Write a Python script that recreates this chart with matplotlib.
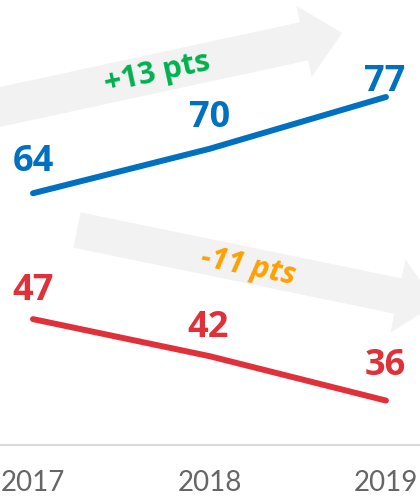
import matplotlib
matplotlib.use("Agg")
import matplotlib.pyplot as plt
from matplotlib.patches import FancyArrow
from matplotlib.transforms import Affine2D

years = [2017, 2018, 2019]
blue_vals = [64, 70, 77]
red_vals = [47, 42, 36]
up_label = "+13 pts"
down_label = "-11 pts"

BLUE = "#0070c0"
RED = "#e0313a"
GREEN = "#00b050"
ORANGE = "#ffa000"
ARROW = "#f2f2f2"
FONT = "Open Sans"

W, H = 420, 499
fig = plt.figure(figsize=(W / 100, H / 100), dpi=100)
ax = fig.add_axes([0, 54 / H, 1, 445 / H])
ax.set_xlim(2016.813, 2019.193)
ax.set_ylim(30, 90.1)

# pixel coords with origin at top-left, for the decorative arrows
px = Affine2D().scale(1, -1).translate(0, H) + fig.transFigure.inverted() + fig.transFigure

ax.add_patch(FancyArrow(-20, 111.3, 324, -70, width=39, head_width=73, head_length=39,
                        length_includes_head=False, color=ARROW, lw=0,
                        transform=px, zorder=0))
ax.add_patch(FancyArrow(77, 230, 321, 66, width=36, head_width=75, head_length=39,
                        length_includes_head=False, color=ARROW, lw=0,
                        transform=px, zorder=0))

ax.plot(years, blue_vals, color=BLUE, lw=4.3, solid_capstyle="round", zorder=2)
ax.plot(years, red_vals, color=RED, lw=4.3, solid_capstyle="round", zorder=2)

blue_off = [(0, 36), (0, 35), (-1, 19)]
red_off = [(0, 33), (-1, 33), (-1, 39)]
for yr, v, off in zip(years, blue_vals, blue_off):
    ax.annotate(str(v), (yr, v), xytext=off, textcoords="offset pixels",
                ha="center", va="center_baseline", fontsize=26, fontweight="bold",
                family=FONT, color=BLUE)
for yr, v, off in zip(years, red_vals, red_off):
    ax.annotate(str(v), (yr, v), xytext=off, textcoords="offset pixels",
                ha="center", va="center_baseline", fontsize=26, fontweight="bold",
                family=FONT, color=RED)

ax.text(157, 73, up_label, transform=px, ha="center", va="center", rotation=12.2,
        rotation_mode="anchor", fontsize=22, fontweight="bold", family=FONT, color=GREEN)
ax.text(248, 267, down_label, transform=px, ha="center", va="center", rotation=-11.6,
        rotation_mode="anchor", fontsize=22, fontweight="bold", style="italic",
        family=FONT, color=ORANGE)

ax.set_xticks(years)
ax.set_xticklabels([str(y) for y in years], fontsize=20, family="Lato", color="#666666")
ax.tick_params(axis="x", length=0, pad=18)
ax.set_yticks([])
for s in ["top", "left", "right"]:
    ax.spines[s].set_visible(False)
ax.spines["bottom"].set_color("#d9d9d9")
ax.spines["bottom"].set_linewidth(1.5)

fig.savefig("out.png", dpi=100)
